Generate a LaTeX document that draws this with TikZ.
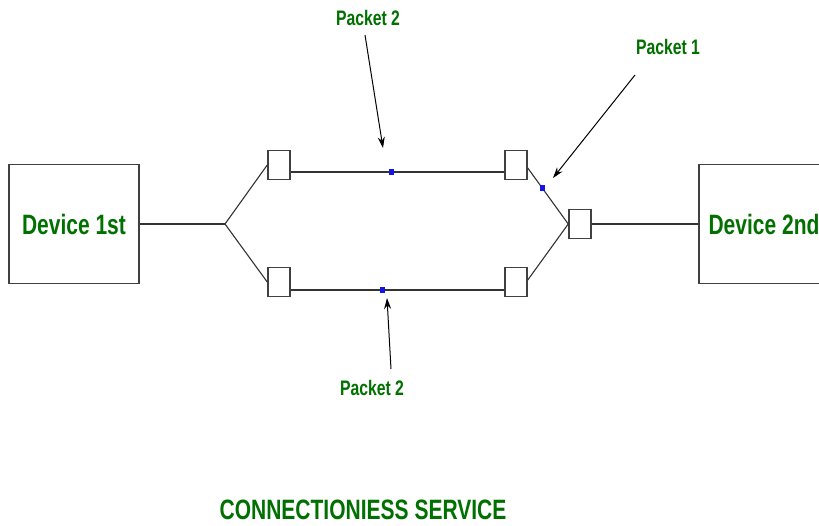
\documentclass[tikz,border=0pt]{standalone}
\usepackage{fontspec}
\setmainfont[FakeStretch=0.75]{Liberation Sans}
\usetikzlibrary{arrows.meta}
\definecolor{lblgreen}{RGB}{0,112,0}
\definecolor{pktblue}{RGB}{20,20,230}
\begin{document}
\begin{tikzpicture}[>={Stealth[length=11pt,width=7pt]},x=1pt,y=-1pt,
  device/.style={draw=black!75,line width=1.4pt,minimum width=130pt,minimum height=119pt,
    inner sep=0pt,text=lblgreen,font=\fontsize{28}{32}\selectfont\bfseries},
  switch/.style={draw=black!75,line width=1.5pt,minimum width=22pt,minimum height=29pt,inner sep=0pt},
  link/.style={black!80,line width=1.1pt},
  pkt/.style={fill=pktblue,minimum width=5pt,minimum height=6pt,inner sep=0pt},
  lbl/.style={text=lblgreen,font=\fontsize{21}{24}\selectfont\bfseries},
  ptr/.style={->,line width=1pt}]
  \useasboundingbox (0,0) rectangle (819,525);
  % end devices
  \node[device] (dev1) at (74,224) {Device 1st};
  \node[device] (dev2) at (764,224) {Device 2nd};
  % routers
  \node[switch] (sw1) at (279,165) {};
  \node[switch] (sw2) at (279,282) {};
  \node[switch] (sw3) at (516,165) {};
  \node[switch] (sw4) at (516,282) {};
  \node[switch] (sw5) at (580,224) {};
  \coordinate (j) at (225,224);
  % links
  \draw[link] (dev1) -- (j);
  \draw[link] (j) -- (sw1.west);
  \draw[link] (j) -- (sw2.west);
  \draw[link] ([yshift=-7pt]sw1.east) -- node[pkt,pos=0.47] (pkt2a) {} ([yshift=-7pt]sw3.west);
  \draw[link] ([yshift=-8pt]sw2.east) -- node[pkt,pos=0.43] (pkt2b) {} ([yshift=-8pt]sw4.west);
  \draw[link] ([yshift=-3pt]sw3.east) -- node[pkt,pos=0.36] (pkt1) {} (sw5.west);
  \draw[link] ([yshift=2pt]sw4.east) -- (sw5.west);
  \draw[link] (sw5) -- (dev2);
  % labels and pointers
  \node[lbl] (lbl2a) at (368,18) {Packet 2};
  \node[lbl] (lbl1) at (668,47) {Packet 1};
  \node[lbl] (lbl2b) at (372,388) {Packet 2};
  \coordinate (tail2a) at (365,35);
  \coordinate (tip2a) at (383,148);
  \coordinate (tail1) at (635,75);
  \coordinate (tip1) at (553,178);
  \coordinate (tail2b) at (391,369);
  \coordinate (tip2b) at (387,298);
  \draw[ptr] (tail2a) -- (tip2a);
  \draw[ptr] (tail1) -- (tip1);
  \draw[ptr] (tail2b) -- (tip2b);
  % title
  \node[lbl,font=\fontsize{28}{32}\selectfont\bfseries] (title) at (363,510) {CONNECTIONIESS SERVICE};
\end{tikzpicture}
\end{document}
